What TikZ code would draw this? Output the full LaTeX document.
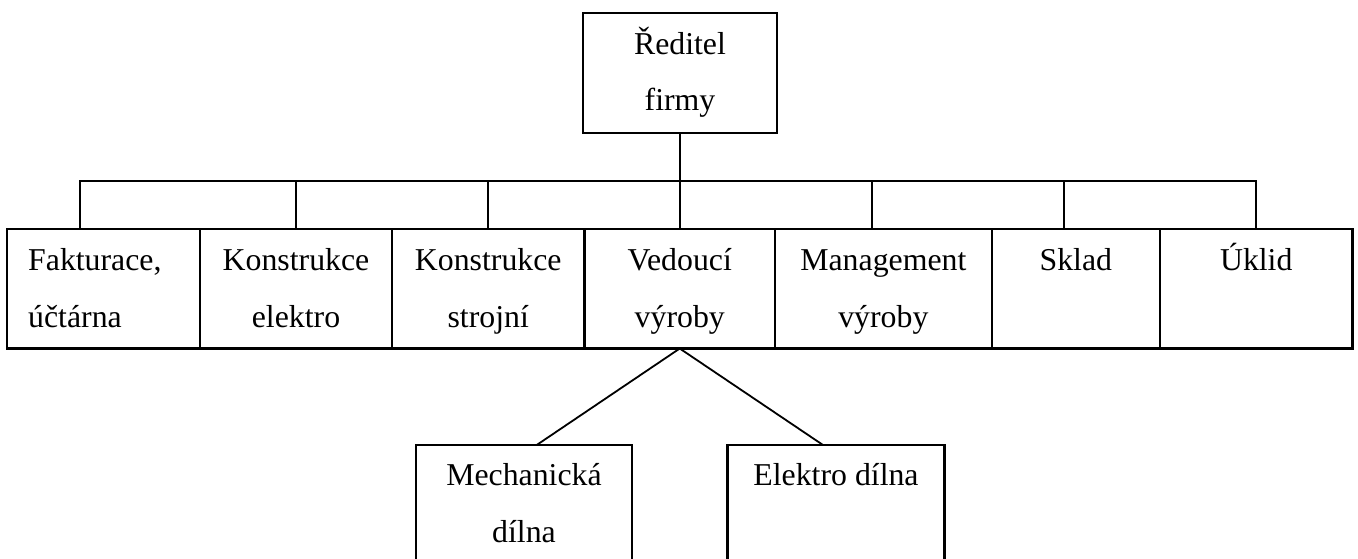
\documentclass[tikz,border=0pt]{standalone}
\usepackage{fontspec}
\setmainfont{Liberation Serif}
\begin{document}
\begin{tikzpicture}[x=1pt,y=-1pt,
  box/.style={draw, line width=2.1pt, rectangle, inner sep=0pt, outer sep=0pt, anchor=north west},
  lbl/.style={anchor=base, inner sep=0pt, font=\fontsize{31.8}{40}\selectfont},
  conn/.style={line width=2pt, line cap=rect}]
\useasboundingbox (0,0) rectangle (1358,558);
\clip (0,0) rectangle (1358,558);

% top box
\node[box, minimum width=194pt, minimum height=120pt] (dir) at (583,12.7) {};
\node[lbl] (dirA) at (680,54.5) {Ředitel};
\node[lbl] (dirB) at (680,110.5) {firmy};

% row boxes
\node[box, minimum width=193pt, minimum height=119.5pt] (b1) at (7,229) {};
\node[box, minimum width=192pt, minimum height=119.5pt] (b2) at (200,229) {};
\node[box, minimum width=192.5pt, minimum height=119.5pt] (b3) at (392,229) {};
\node[box, minimum width=190.5pt, minimum height=119.5pt] (b4) at (584.5,229) {};
\node[box, minimum width=216.7pt, minimum height=119.5pt] (b5) at (775,229) {};
\node[box, minimum width=168.3pt, minimum height=119.5pt] (b6) at (991.7,229) {};
\node[box, minimum width=192.5pt, minimum height=119.5pt] (b7) at (1160,229) {};

\node[lbl, anchor=base west] (t1a) at (28,270) {Fakturace,};
\node[lbl, anchor=base west] (t1b) at (28,327) {účtárna};
\node[lbl] (t2a) at (296,270) {Konstrukce};
\node[lbl] (t2b) at (296,327) {elektro};
\node[lbl] (t3a) at (488.25,270) {Konstrukce};
\node[lbl] (t3b) at (488.25,327) {strojní};
\node[lbl] (t4a) at (679.75,270) {Vedoucí};
\node[lbl] (t4b) at (679.75,327) {výroby};
\node[lbl] (t5a) at (883.35,270) {Management};
\node[lbl] (t5b) at (883.35,327) {výroby};
\node[lbl] (t6a) at (1075.85,270) {Sklad};
\node[lbl] (t7a) at (1256.25,270) {Úklid};

% bottom boxes
\node[box, minimum width=216.6pt, minimum height=140pt] (m1) at (415.7,445) {};
\node[box, minimum width=217pt, minimum height=140pt] (m2) at (727.5,445) {};
\node[lbl] (m1a) at (524,485.5) {Mechanická};
\node[lbl] (m1b) at (524,542) {dílna};
\node[lbl] (m2a) at (836,485.5) {Elektro dílna};

% bus
\coordinate (hub) at (680,181);
\coordinate (d1) at (80,181);
\coordinate (d2) at (296,181);
\coordinate (d3) at (488,181);
\coordinate (d5) at (872,181);
\coordinate (d6) at (1064,181);
\coordinate (d7) at (1256,181);

\draw[conn] (dir.south -| hub) -- (hub);
\draw[conn] (d1) -- (d7);
\draw[conn] (d1) -- (d1 |- b1.north);
\draw[conn] (d2) -- (d2 |- b2.north);
\draw[conn] (d3) -- (d3 |- b3.north);
\draw[conn] (hub) -- (hub |- b4.north);
\draw[conn] (d5) -- (d5 |- b5.north);
\draw[conn] (d6) -- (d6 |- b6.north);
\draw[conn] (d7) -- (d7 |- b7.north);

\coordinate (m1top) at (536.7,445);
\coordinate (m2top) at (823,445);
\draw[line width=1.8pt] (b4.south) -- (m1top);
\draw[line width=1.8pt] (b4.south) -- (m2top);
\end{tikzpicture}
\end{document}
